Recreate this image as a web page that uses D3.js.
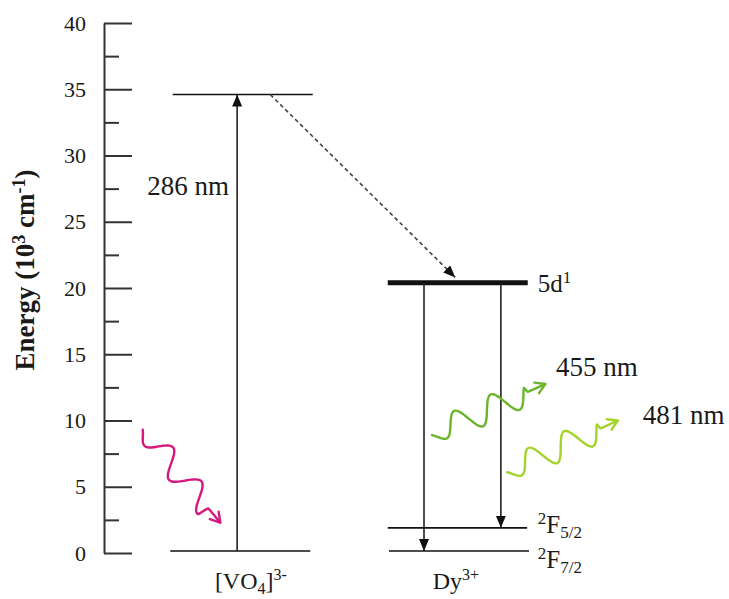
<!DOCTYPE html>
<html>
<head>
<meta charset="utf-8">
<script src="https://cdn.jsdelivr.net/npm/d3@7"></script>
<style>
body{margin:0;background:#fff}
text{font-family:"Liberation Serif","Times New Roman",serif;fill:#1a1a1a}
</style>
</head>
<body>
<div id="chart"></div>
<script>
// energy axis (10^3 cm-1)
var majorTicks = [0,5,10,15,20,25,30,35,40]
var minorTicks = [2.5,7.5,12.5,17.5,22.5,27.5,32.5,37.5]

// energy levels (x in diagram columns)
var levelNames  = ["VO4 ground","VO4 excited","5d1","2F5/2","2F7/2"]
var levelEnergy = [0.15, 34.6, 20.4, 1.9, 0.15]
var levelX0     = [1.06, 1.10, 4.54, 4.54, 4.56]
var levelX1     = [3.30, 3.34, 6.78, 6.77, 6.80]
var levelThick  = [false, false, true, false, false]

// vertical transitions
var arrowX    = [2.13, 5.12, 6.35]
var arrowFrom = [0.15, 20.4, 20.4]
var arrowTo   = [34.6, 0.15, 1.9]

// energy transfer (dashed)
var transferFrom = [2.66, 34.6]
var transferTo   = [5.62, 20.8]

// photons: start/end in columns and energy
var photonX0 = [0.62, 5.25, 6.45]
var photonE0 = [9.3, 8.9, 6.1]
var photonX1 = [1.86, 7.06, 8.22]
var photonE1 = [2.3, 12.75, 10.0]
var photonColors = ["#d5197f", "#6cb52a", "#a5d22b"]

var width = 729, height = 599
var svg = d3.select("#chart").append("svg").attr("width",width).attr("height",height)

var y = d3.scaleLinear().domain([0,40]).range([553,23])
var x = d3.scaleLinear().domain([0,10]).range([104,729])

// axis
var axisMajor = d3.axisLeft(y).tickValues(majorTicks).tickSizeInner(-28).tickSizeOuter(0).tickPadding(18)
var gAxis = svg.append("g").attr("transform","translate(104,0)").call(axisMajor)
gAxis.select(".domain").attr("stroke","#333").attr("stroke-width",2)
gAxis.selectAll(".tick line").attr("stroke","#333").attr("stroke-width",2)
gAxis.selectAll(".tick text").style("font-family","'Liberation Serif','Times New Roman',serif").style("font-size","22px").attr("fill","#333")

var axisMinor = d3.axisLeft(y).tickValues(minorTicks).tickSizeInner(-15).tickSizeOuter(0).tickFormat("")
var gMinor = svg.append("g").attr("transform","translate(104,0)").call(axisMinor)
gMinor.select(".domain").remove()
gMinor.selectAll(".tick line").attr("stroke","#333").attr("stroke-width",2)

var title = svg.append("text")
    .attr("transform","translate(34,270) rotate(-90)")
    .attr("text-anchor","middle")
    .style("font-size","27px").style("font-weight","bold")
title.append("tspan").text("Energy (10")
title.append("tspan").text("3").attr("dy",-9).style("font-size","18px")
title.append("tspan").text(" cm").attr("dy",9)
title.append("tspan").text("-1").attr("dy",-9).style("font-size","18px")
title.append("tspan").text(")").attr("dy",9)

// markers
var defs = svg.append("defs")
defs.append("marker").attr("id","tri")
    .attr("markerUnits","userSpaceOnUse").attr("markerWidth",13).attr("markerHeight",11)
    .attr("refX",12).attr("refY",5).attr("orient","auto")
    .append("path").attr("d","M0,0 L12,5 L0,10 z").attr("fill","#111")

// levels
svg.selectAll(".level").data(levelNames).enter().append("line")
    .attr("class","level")
    .attr("x1",function(d,i){return x(levelX0[i])})
    .attr("x2",function(d,i){return x(levelX1[i])})
    .attr("y1",function(d,i){return y(levelEnergy[i])})
    .attr("y2",function(d,i){return y(levelEnergy[i])})
    .attr("stroke","#111")
    .attr("stroke-width",function(d,i){return levelThick[i]?5:1.6})

// vertical arrows
svg.selectAll(".trans").data(arrowX).enter().append("line")
    .attr("class","trans")
    .attr("x1",function(d){return x(d)}).attr("x2",function(d){return x(d)})
    .attr("y1",function(d,i){return y(arrowFrom[i])})
    .attr("y2",function(d,i){return y(arrowTo[i])})
    .attr("stroke","#222").attr("stroke-width",1.6)
    .attr("marker-end","url(#tri)")

// dashed transfer
svg.append("line")
    .attr("x1",x(transferFrom[0])).attr("y1",y(transferFrom[1]))
    .attr("x2",x(transferTo[0])).attr("y2",y(transferTo[1]))
    .attr("stroke","#444").attr("stroke-width",1.6).attr("stroke-dasharray","4,3")
    .attr("marker-end","url(#tri)")

// wavy photons
var photonPeriods = [2.3, 2.6, 2.6]
var photonAmp = [12, 13, 13]
function wave(x0,y0,x1,y1,periods,amp){
    var dx=x1-x0, dy=y1-y0, L=Math.hypot(dx,dy)
    var ux=dx/L, uy=dy/L, nx=-uy, ny=ux
    var pts=[]
    var frac=0.84
    for(var i=0;i<=120;i++){
        var t=i/120
        var o=0
        if(t<frac){ o=amp*Math.sin(2*Math.PI*periods*t/frac)*Math.min(1,0.35+t*4) }
        pts.push([x0+ux*L*t+nx*o, y0+uy*L*t+ny*o])
    }
    return pts
}
var line = d3.line().curve(d3.curveBasis)
for(var p=0;p<photonColors.length;p++){
    var sx=x(photonX0[p]), sy=y(photonE0[p]), ex=x(photonX1[p]), ey=y(photonE1[p])
    var pts = wave(sx,sy,ex,ey,photonPeriods[p],photonAmp[p])
    svg.append("path").attr("d",line(pts)).attr("fill","none")
        .attr("stroke",photonColors[p]).attr("stroke-width",2.4).attr("stroke-linecap","round")
    var a=Math.atan2(ey-sy,ex-sx)
    var hl=11
    var head=[[ex-hl*Math.cos(a-0.55),ey-hl*Math.sin(a-0.55)],[ex,ey],[ex-hl*Math.cos(a+0.55),ey-hl*Math.sin(a+0.55)]]
    svg.append("path").attr("d",d3.line()(head)).attr("fill","none")
        .attr("stroke",photonColors[p]).attr("stroke-width",2.4).attr("stroke-linecap","round").attr("stroke-linejoin","round")
}

// labels
svg.append("text").attr("x",x(0.69)).attr("y",y(27.0)).text("286 nm").style("font-size","27px")
svg.append("text").attr("x",x(7.23)).attr("y",y(13.36)).text("455 nm").style("font-size","27px")
svg.append("text").attr("x",x(8.62)).attr("y",y(9.74)).text("481 nm").style("font-size","27px")

var t5d = svg.append("text").attr("x",x(6.94)).attr("y",y(20.4)+9).style("font-size","25px")
t5d.append("tspan").text("5d")
t5d.append("tspan").text("1").attr("dy",-9).style("font-size","17px")

function termLabel(e,off,j){
    var t = svg.append("text").attr("x",x(6.94)).attr("y",y(e)+off).style("font-size","25px")
    t.append("tspan").text("2").attr("dy",-9).style("font-size","17px")
    t.append("tspan").text("F").attr("dy",9)
    t.append("tspan").text(j).attr("dy",5).style("font-size","17px")
}
termLabel(levelEnergy[3],5,"5/2")
termLabel(levelEnergy[4],17,"7/2")

var tv = svg.append("text").attr("x",x(2.35)).attr("y",589).attr("text-anchor","middle").style("font-size","24px")
tv.append("tspan").text("[VO")
tv.append("tspan").text("4").attr("dy",5).style("font-size","16px")
tv.append("tspan").text("]").attr("dy",-5)
tv.append("tspan").text("3-").attr("dy",-9).style("font-size","16px")

var td = svg.append("text").attr("x",x(5.63)).attr("y",589).attr("text-anchor","middle").style("font-size","24px")
td.append("tspan").text("Dy")
td.append("tspan").text("3+").attr("dy",-9).style("font-size","16px")
</script>
</body>
</html>
